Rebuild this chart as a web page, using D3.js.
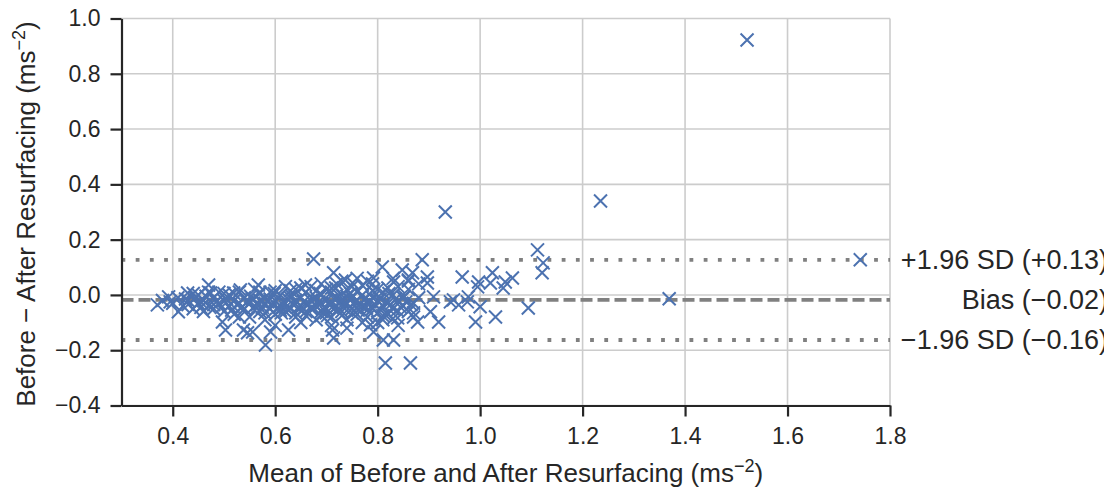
<!DOCTYPE html>
<html><head><meta charset="utf-8">
<script src="https://cdn.jsdelivr.net/npm/d3@7"></script>
<style>
body{margin:0;background:#fff}
text{font-family:"Liberation Sans",Arial,Helvetica,sans-serif;fill:#262626}
</style>
</head><body>
<svg id="chart" width="1114" height="489"></svg>
<script>
// Mean of before & after (x) and difference (y)
const meanVals = [
0.38,0.40,0.41,0.42,0.43,0.44,0.45,0.45,0.46,0.47,0.47,0.48,0.48,0.49,0.50,0.50,0.51,0.51,0.52,0.52,
0.53,0.53,0.54,0.54,0.55,0.55,0.56,0.56,0.57,0.57,0.58,0.58,0.59,0.59,0.60,0.60,0.61,0.61,0.62,0.62,
0.63,0.63,0.64,0.64,0.64,0.65,0.65,0.66,0.66,0.66,0.67,0.67,0.67,0.68,0.68,0.68,0.69,0.69,0.69,0.70,
0.70,0.70,0.71,0.71,0.71,0.72,0.72,0.72,0.73,0.73,0.73,0.74,0.74,0.74,0.75,0.75,0.75,0.76,0.76,0.76,
0.77,0.77,0.78,0.78,0.78,0.79,0.79,0.80,0.80,0.80,0.81,0.81,0.82,0.82,0.83,0.83,0.84,0.84,0.85,0.85,
0.86,0.86,0.87,0.88,0.88,
0.395,0.425,0.455,0.465,0.485,0.495,0.505,0.515,0.525,0.535,0.545,0.555,0.565,0.575,0.585,0.595,
0.605,0.615,0.625,0.635,0.645,0.655,0.665,0.675,0.685,0.695,0.705,0.715,0.725,0.735,0.745,0.755,
0.765,0.775,0.785,0.795,0.805,0.815,0.825,0.835,0.845,0.855,0.865,
0.60,0.62,0.65,0.69,0.71,0.73,0.74,0.76,0.77,0.79,0.81,0.83,0.84,0.86,0.87,0.58,0.57,0.53,0.49,0.46,
0.56,0.57,0.58,0.59,0.60,0.61,0.62,0.63,0.64,0.65,0.66,0.67,0.68,0.69,0.70,0.71,0.72,0.73,0.74,0.75,
0.76,0.77,0.78,0.79,0.80,0.81,0.82,0.83,
0.552,0.573,0.598,0.612,0.633,0.652,0.671,0.688,0.702,0.718,0.733,0.747,0.762,0.778,0.791,0.806,
0.822,0.838,0.852,0.43,0.44,0.46,0.48,0.50,0.52,
0.370,0.392,0.411,0.429,0.444,0.470,0.474,0.497,0.503,0.519,0.532,0.538,0.546,0.581,0.591,0.556,
0.626,0.675,0.712,0.714,0.714,0.737,0.751,0.567,0.659,
0.887,0.809,0.848,0.868,0.897,0.897,0.860,0.831,0.792,0.909,0.948,0.903,0.919,0.870,0.878,0.839,
0.815,0.786,0.792,0.811,0.831,0.815,0.864,
1.112,1.123,1.121,1.094,1.063,1.049,1.045,1.024,1.020,0.997,0.995,0.965,1.030,0.991,1.000,0.977,
0.975,0.958,0.942,0.932,1.235,1.521,1.742,1.369
];
const diffVals = [
-0.02,-0.03,-0.01,-0.04,-0.02,-0.05,-0.03,0.00,-0.02,-0.04,0.01,-0.01,-0.05,-0.03,-0.02,-0.06,0.00,-0.04,-0.02,-0.07,
-0.03,0.01,-0.05,-0.01,-0.03,-0.08,0.02,-0.04,-0.02,-0.06,-0.01,-0.03,-0.05,0.01,-0.02,-0.07,-0.04,0.00,-0.03,-0.06,
-0.01,-0.05,-0.02,0.02,-0.08,-0.04,-0.01,-0.03,-0.06,0.01,-0.02,-0.05,0.03,-0.04,-0.01,-0.09,-0.03,0.00,-0.06,-0.02,
0.02,-0.05,-0.03,-0.08,0.01,-0.01,-0.04,0.04,-0.02,-0.06,0.00,-0.03,0.02,-0.09,-0.01,-0.05,0.03,-0.02,-0.07,0.01,
-0.04,0.00,-0.03,0.05,-0.08,-0.01,-0.05,-0.02,0.02,-0.10,-0.04,0.01,-0.03,-0.07,0.00,-0.05,-0.02,0.03,-0.04,-0.01,
-0.06,0.02,-0.03,-0.01,0.04,
-0.025,-0.015,-0.045,-0.005,-0.025,-0.045,-0.015,-0.055,-0.035,-0.045,-0.025,-0.015,-0.035,-0.045,-0.025,-0.035,
-0.045,-0.025,-0.015,-0.035,-0.045,-0.025,-0.035,-0.015,-0.025,-0.045,-0.035,-0.015,-0.025,-0.035,-0.015,-0.025,
-0.035,-0.015,-0.025,-0.035,-0.015,-0.025,-0.035,-0.015,-0.045,-0.025,-0.035,
-0.11,0.03,-0.10,0.04,-0.11,0.05,-0.12,0.06,-0.10,0.04,-0.09,0.06,-0.11,0.05,-0.08,-0.09,0.01,-0.08,0.01,-0.06,
-0.055,0.005,-0.065,-0.015,0.015,-0.055,-0.045,0.015,-0.065,0.025,-0.075,-0.045,0.015,-0.075,-0.065,0.025,
-0.055,-0.075,-0.005,-0.065,-0.045,0.035,-0.055,0.015,-0.065,-0.075,0.025,-0.085,
-0.005,-0.025,0.005,-0.065,-0.005,-0.055,-0.045,0.005,-0.075,0.025,-0.045,0.005,-0.055,-0.045,0.015,-0.055,
0.005,-0.055,-0.005,-0.035,0.005,-0.035,-0.035,0.005,-0.045,
-0.036,-0.007,-0.061,0.007,-0.011,0.036,0.007,-0.098,-0.127,0.007,0.018,-0.127,-0.137,-0.181,-0.134,-0.134,
-0.127,0.130,-0.127,-0.156,0.080,0.054,0.043,0.036,0.036,
0.127,0.101,0.090,0.080,0.065,0.043,0.054,0.047,0.061,-0.007,-0.018,-0.061,-0.098,-0.065,-0.098,-0.083,
-0.072,-0.108,-0.134,-0.163,-0.163,-0.246,-0.246,
0.163,0.116,0.080,-0.047,0.061,0.047,0.025,0.080,0.043,0.047,0.029,0.065,-0.080,-0.098,-0.043,-0.007,
-0.025,-0.036,-0.025,0.300,0.340,0.922,0.127,-0.014
];
const xTicks = [0.4,0.6,0.8,1.0,1.2,1.4,1.6,1.8];
const yTicks = [-0.4,-0.2,0.0,0.2,0.4,0.6,0.8,1.0];
const limitValues = [0.127,-0.018,-0.163];
const limitLabels = ["+1.96 SD (+0.13)","Bias (\u22120.02)","\u22121.96 SD (\u22120.16)"];
const limitStyles = ["dot","dash","dot"];

const svg = d3.select("#chart");
const W = 1114, H = 489;
const m = {left:121.5, right:890, top:18.5, bottom:405.5};
const x = d3.scaleLinear().domain([0.3,1.8]).range([m.left,m.right]);
const y = d3.scaleLinear().domain([-0.4,1.0]).range([m.bottom,m.top]);

// grid
const grid = svg.append("g");
grid.selectAll("line.v").data(xTicks).join("line")
  .attr("x1",d=>x(d)).attr("x2",d=>x(d)).attr("y1",m.top).attr("y2",m.bottom)
  .attr("stroke","#cccccc").attr("stroke-width",1.6);
grid.selectAll("line.h").data(yTicks).join("line")
  .attr("y1",d=>y(d)).attr("y2",d=>y(d)).attr("x1",m.left).attr("x2",m.right)
  .attr("stroke","#cccccc").attr("stroke-width",1.6);

// limit lines
svg.append("g").selectAll("line").data(limitValues).join("line")
  .attr("x1",m.left).attr("x2",m.right)
  .attr("y1",d=>y(d)).attr("y2",d=>y(d))
  .attr("stroke","#808080").attr("stroke-width",3.8)
  .attr("stroke-dasharray",(d,i)=>limitStyles[i]==="dash"?"12 5":"3.8 10.4");

// points
const pts = meanVals.map((v,i)=>[v,diffVals[i]]);
svg.append("g").selectAll("path").data(pts).join("path")
  .attr("transform",d=>`translate(${x(d[0])},${y(d[1])})`)
  .attr("d","M-6.5,-6.5L6.5,6.5M-6.5,6.5L6.5,-6.5")
  .attr("fill","none").attr("stroke","#4c72b0").attr("stroke-width",2);

// axes
const xAxis = svg.append("g").attr("transform",`translate(0,${m.bottom})`)
  .call(d3.axisBottom(x).tickValues(xTicks).tickFormat(d3.format(".1f")).tickSizeInner(11).tickSizeOuter(0).tickPadding(11));
const yAxis = svg.append("g").attr("transform",`translate(${m.left},0)`)
  .call(d3.axisLeft(y).tickValues(yTicks).tickFormat(d3.format(".1f")).tickSizeInner(11).tickSizeOuter(0).tickPadding(10));
[xAxis,yAxis].forEach(a=>{
  a.select(".domain").attr("stroke","#262626").attr("stroke-width",2.2);
  a.selectAll(".tick line").attr("stroke","#262626").attr("stroke-width",2.2);
  a.selectAll(".tick text").attr("font-size",23).attr("fill","#262626")
   .attr("font-family","'Liberation Sans',Arial,sans-serif");
});

// axis labels
const xl = svg.append("text").attr("x",(m.left+m.right)/2).attr("y",482)
  .attr("text-anchor","middle").attr("font-size",26);
xl.append("tspan").text("Mean of Before and After Resurfacing (ms");
xl.append("tspan").attr("dy",-10).attr("font-size",18).text("\u22122");
xl.append("tspan").attr("dy",10).text(")");

const yl = svg.append("text").attr("transform",`translate(35,${(m.top+m.bottom)/2+2}) rotate(-90)`)
  .attr("text-anchor","middle").attr("font-size",26);
yl.append("tspan").text("Before \u2212 After Resurfacing (ms");
yl.append("tspan").attr("dy",-10).attr("font-size",18).text("\u22122");
yl.append("tspan").attr("dy",10).text(")");

// limit annotations
svg.append("clipPath").attr("id","clipR").append("rect").attr("x",0).attr("y",0).attr("width",1104).attr("height",H);
svg.append("g").attr("clip-path","url(#clipR)").selectAll("text").data(limitValues).join("text")
  .attr("x",1108).attr("y",d=>y(d)).attr("dy","0.35em")
  .attr("text-anchor","end").attr("font-size",27)
  .text((d,i)=>limitLabels[i]);
</script>
</body></html>
